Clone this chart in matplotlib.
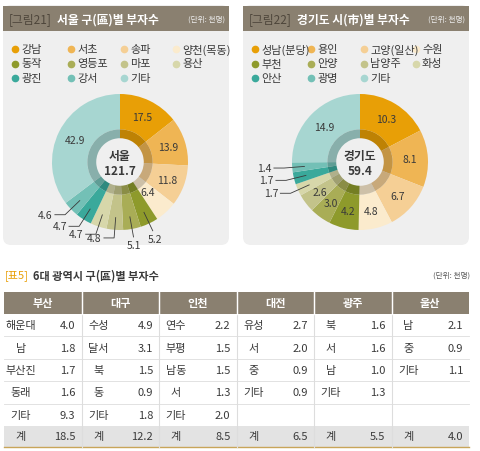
import matplotlib
matplotlib.use("Agg")
import matplotlib.pyplot as plt
from matplotlib.patches import FancyBboxPatch, Rectangle
import numpy as np

plt.rcParams['font.family'] = ['Noto Sans CJK KR', 'DejaVu Sans']

W, H = 480, 452

# 서울 data
seoul_names = ['강남', '서초', '송파', '양천(목동)', '동작', '영등포', '마포', '용산', '광진', '강서', '기타']
seoul_vals = [17.5, 13.9, 11.8, 6.4, 5.2, 5.1, 4.8, 4.7, 4.7, 4.6, 42.9]
# 경기 data
gg_names = ['성남(분당)', '용인', '고양(일산)', '수원', '부천', '안양', '남양주', '화성', '안산', '광명', '기타']
gg_vals = [10.3, 8.1, 6.7, 4.8, 4.2, 3.0, 2.6, 1.7, 1.7, 1.4, 14.9]

colors = ['#e89f06', '#efb554', '#f5cf95', '#fbebcd', '#8e9a2b', '#a9ad56',
          '#c3c38a', '#d7d7aa', '#3aa99b', '#73c0b6', '#a7d6d1']

# 표5 data
cities = ['부산', '대구', '인천', '대전', '광주', '울산']
districts = [['해운대', '남', '부산진', '동래', '기타'],
             ['수성', '달서', '북', '동', '기타'],
             ['연수', '부평', '남동', '서', '기타'],
             ['유성', '서', '중', '기타'],
             ['북', '서', '남', '기타'],
             ['남', '중', '기타']]
dvals = [[4.0, 1.8, 1.7, 1.6, 9.3],
         [4.9, 3.1, 1.5, 0.9, 1.8],
         [2.2, 1.5, 1.5, 1.3, 2.0],
         [2.7, 2.0, 0.9, 0.9],
         [1.6, 1.6, 1.0, 1.3],
         [2.1, 0.9, 1.1]]
totals = [18.5, 12.2, 8.5, 6.5, 5.5, 4.0]

fig = plt.figure(figsize=(W / 100, H / 100), dpi=100)
bg = fig.add_axes([0, 0, 1, 1])
bg.set_xlim(0, W)
bg.set_ylim(H, 0)
bg.axis('off')

brown = '#8a8070'
dark = '#3a3a3a'


def panel(x0, title_tag, title, names, vals, center_label, total, outer_idx, inner_small):
    bg.add_patch(FancyBboxPatch((x0 + 3, 6), 226, 240, boxstyle='round,pad=0,rounding_size=8',
                                fc='#efefef', ec='none'))
    bg.add_patch(Rectangle((x0 + 3, 7), 226, 25, fc=brown, ec='none'))
    bg.text(x0 + 9, 20, title_tag, color='#4e463b', fontsize=8.5, va='center')
    bg.text(x0 + 57, 20, title, color='white', fontsize=8.5, va='center', fontweight='bold')
    bg.text(x0 + 225, 20, '(단위: 천명)', color='#eeeeee', fontsize=5.5, va='center', ha='right')
    colx = [x0 + 15, x0 + 71, x0 + 124, x0 + 176]
    for i, n in enumerate(names):
        cx = colx[i % 4]
        cy = 50 + 14.5 * (i // 4)
        bg.plot(cx, cy, 'o', ms=4.5, color=colors[i])
        bg.text(cx + 6, cy, n, fontsize=8, va='center', color=dark)

    cx, cy, r = x0 + 120, 163, 68
    ax = fig.add_axes([(cx - r) / W, 1 - (cy + r) / H, 2 * r / W, 2 * r / H])
    ax.pie(vals, colors=colors, startangle=90, counterclock=False, radius=1,
           wedgeprops=dict(width=0.52, edgecolor='none'))
    ax.pie(vals, colors=colors, startangle=90, counterclock=False, radius=0.48,
           wedgeprops=dict(width=0.13, edgecolor='none'))
    ax.pie([1], colors=['black'], radius=0.48, wedgeprops=dict(width=0.13, alpha=0.18))
    ax.text(0, 0.09, center_label, ha='center', va='center', fontsize=8.5, fontweight='bold', color=dark)
    ax.text(0, -0.13, total, ha='center', va='center', fontsize=8.5, fontweight='bold', color=dark)
    ax.set_xlim(-1, 1)
    ax.set_ylim(-1, 1)
    ax.axis('off')

    tot = sum(vals)
    start = 90
    for i, v in enumerate(vals):
        mid = np.deg2rad(start - 360 * (v / 2) / tot)
        start -= 360 * v / tot
        lbl = '%.1f' % v
        if i in outer_idx:
            x1, y1 = 0.82 * np.cos(mid), 0.82 * np.sin(mid)
            x2, y2 = 1.12 * np.cos(mid), 1.12 * np.sin(mid)
            if x2 < 0:
                xe = x2 - 0.15
                ax.plot([x1, x2, xe], [y1, y2, y2], color=dark, lw=0.6, clip_on=False)
                ax.text(xe - 0.03, y2, lbl, ha='right', va='center', fontsize=7.5, color=dark)
            else:
                ax.plot([x1, x2], [y1, y2], color=dark, lw=0.6, clip_on=False)
                ax.text(x2 + 0.06 * np.cos(mid), y2 - 0.12, lbl, ha='center', va='center', fontsize=7.5, color=dark)
        else:
            rr = 0.6 if i in inner_small else 0.74
            ax.text(rr * np.cos(mid), rr * np.sin(mid), lbl, ha='center', va='center', fontsize=7.5, color=dark)


panel(0, '[그림21]', '서울 구(區)별 부자수', seoul_names, seoul_vals, '서울', '121.7', [4, 5, 6, 7, 8, 9], [3])
panel(240, '[그림22]', '경기도 시(市)별 부자수', gg_names, gg_vals, '경기도', '59.4', [7, 8, 9], [])

# table
bg.text(5, 276, '[표5]', color='#e89f06', fontsize=8, va='center')
bg.text(33, 276, '6대 광역시 구(區)별 부자수', color=dark, fontsize=8, va='center', fontweight='bold')
bg.text(470, 276, '(단위: 천명)', color='#555555', fontsize=5.5, va='center', ha='right')
tx0, tx1 = 4, 469
cw = (tx1 - tx0) / 6
top, hh, rh = 293, 22, 22.4
bg.add_patch(Rectangle((tx0, top), tx1 - tx0, hh, fc=brown, ec='none'))
ty_tot = top + hh + 5 * rh
bg.add_patch(Rectangle((tx0, ty_tot), tx1 - tx0, 21, fc='#e3e3e3', ec='none'))
bg.plot([tx0, tx1], [ty_tot + 21, ty_tot + 21], color='#c8a55a', lw=1)
for k in range(1, 5):
    bg.plot([tx0, tx1], [top + hh + k * rh] * 2, color='#dddddd', lw=0.6)
for c in range(6):
    x = tx0 + c * cw
    if c > 0:
        bg.plot([x, x], [top, ty_tot + 21], color='#dddddd', lw=0.8)
        bg.plot([x, x], [top, top + hh], color='white', lw=1)
    bg.text(x + cw / 2, top + hh / 2, cities[c], color='white', fontsize=8, ha='center', va='center', fontweight='bold')
    for r_, (n, v) in enumerate(zip(districts[c], dvals[c])):
        yy = top + hh + r_ * rh + rh / 2
        bg.text(x + 17, yy, n, fontsize=8, ha='center', va='center', color=dark)
        bg.text(x + cw - 6, yy, '%.1f' % v, fontsize=8, ha='right', va='center', color=dark)
    yy = ty_tot + 10.5
    bg.text(x + 17, yy, '계', fontsize=8, ha='center', va='center', color=dark)
    bg.text(x + cw - 6, yy, '%.1f' % totals[c], fontsize=8, ha='right', va='center', color=dark)

fig.savefig('out.png', dpi=100)
